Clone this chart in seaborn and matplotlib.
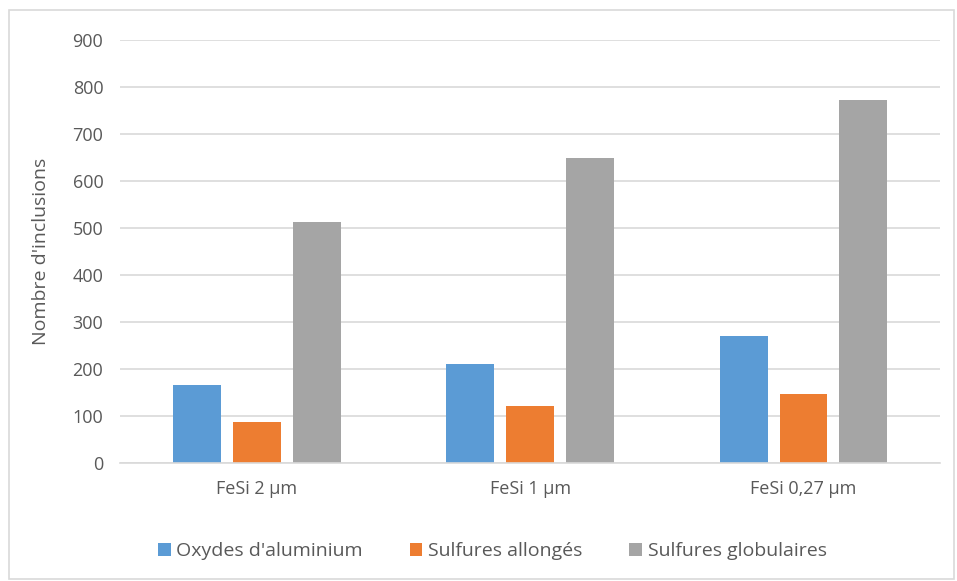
import pandas as pd
import matplotlib.pyplot as plt
import seaborn as sns
from matplotlib.patches import Rectangle

categories = ['FeSi 2 µm', 'FeSi 1 µm', 'FeSi 0,27 µm']
series = ["Oxydes d'aluminium", 'Sulfures allongés', 'Sulfures globulaires']
oxydes = [166, 210, 270]
allonges = [87, 122, 147]
globulaires = [513, 650, 772]
yticks = [0, 100, 200, 300, 400, 500, 600, 700, 800, 900]
colors = ['#5B9BD5', '#ED7D31', '#A5A5A5']

df = pd.DataFrame({
    'cat': categories * 3,
    'serie': [series[0]] * 3 + [series[1]] * 3 + [series[2]] * 3,
    'val': oxydes + allonges + globulaires,
})

sns.set_style('white')
plt.rcParams['font.family'] = ['Open Sans', 'DejaVu Sans']
txt = '#595959'

fig = plt.figure(figsize=(9.57, 5.81), dpi=100)
ax = fig.add_axes([0.1254, 0.203, 0.857, 0.728])

sns.barplot(data=df, x='cat', y='val', hue='serie', palette=colors,
            width=0.657, gap=0.2, saturation=1, ax=ax, edgecolor='none')

ax.set_ylim(0, 900)
ax.set_yticks(yticks)
ax.set_xlim(-0.5, 2.5)
ax.yaxis.grid(True, color='#D9D9D9', linewidth=1.2)
ax.set_axisbelow(True)
for s in ['top', 'right', 'left']:
    ax.spines[s].set_visible(False)
ax.spines['bottom'].set_color('#D9D9D9')
ax.spines['bottom'].set_linewidth(1.2)
ax.tick_params(axis='both', length=0, labelsize=13, colors=txt, pad=12)
ax.set_xlabel('')
ax.set_ylabel("Nombre d'inclusions", fontsize=14, color=txt, labelpad=16)

ax.legend(loc='upper center', bbox_to_anchor=(0.454, -0.145), ncol=3,
          frameon=False, fontsize=14, labelcolor=txt, handlelength=0.65,
          handleheight=0.65, handletextpad=0.3, columnspacing=2.4)

fig.patches.append(Rectangle((0.009, 0.004), 0.988, 0.978, transform=fig.transFigure,
                             fill=False, edgecolor='#D9D9D9', linewidth=1.2))

fig.savefig('out.png', dpi=100)
